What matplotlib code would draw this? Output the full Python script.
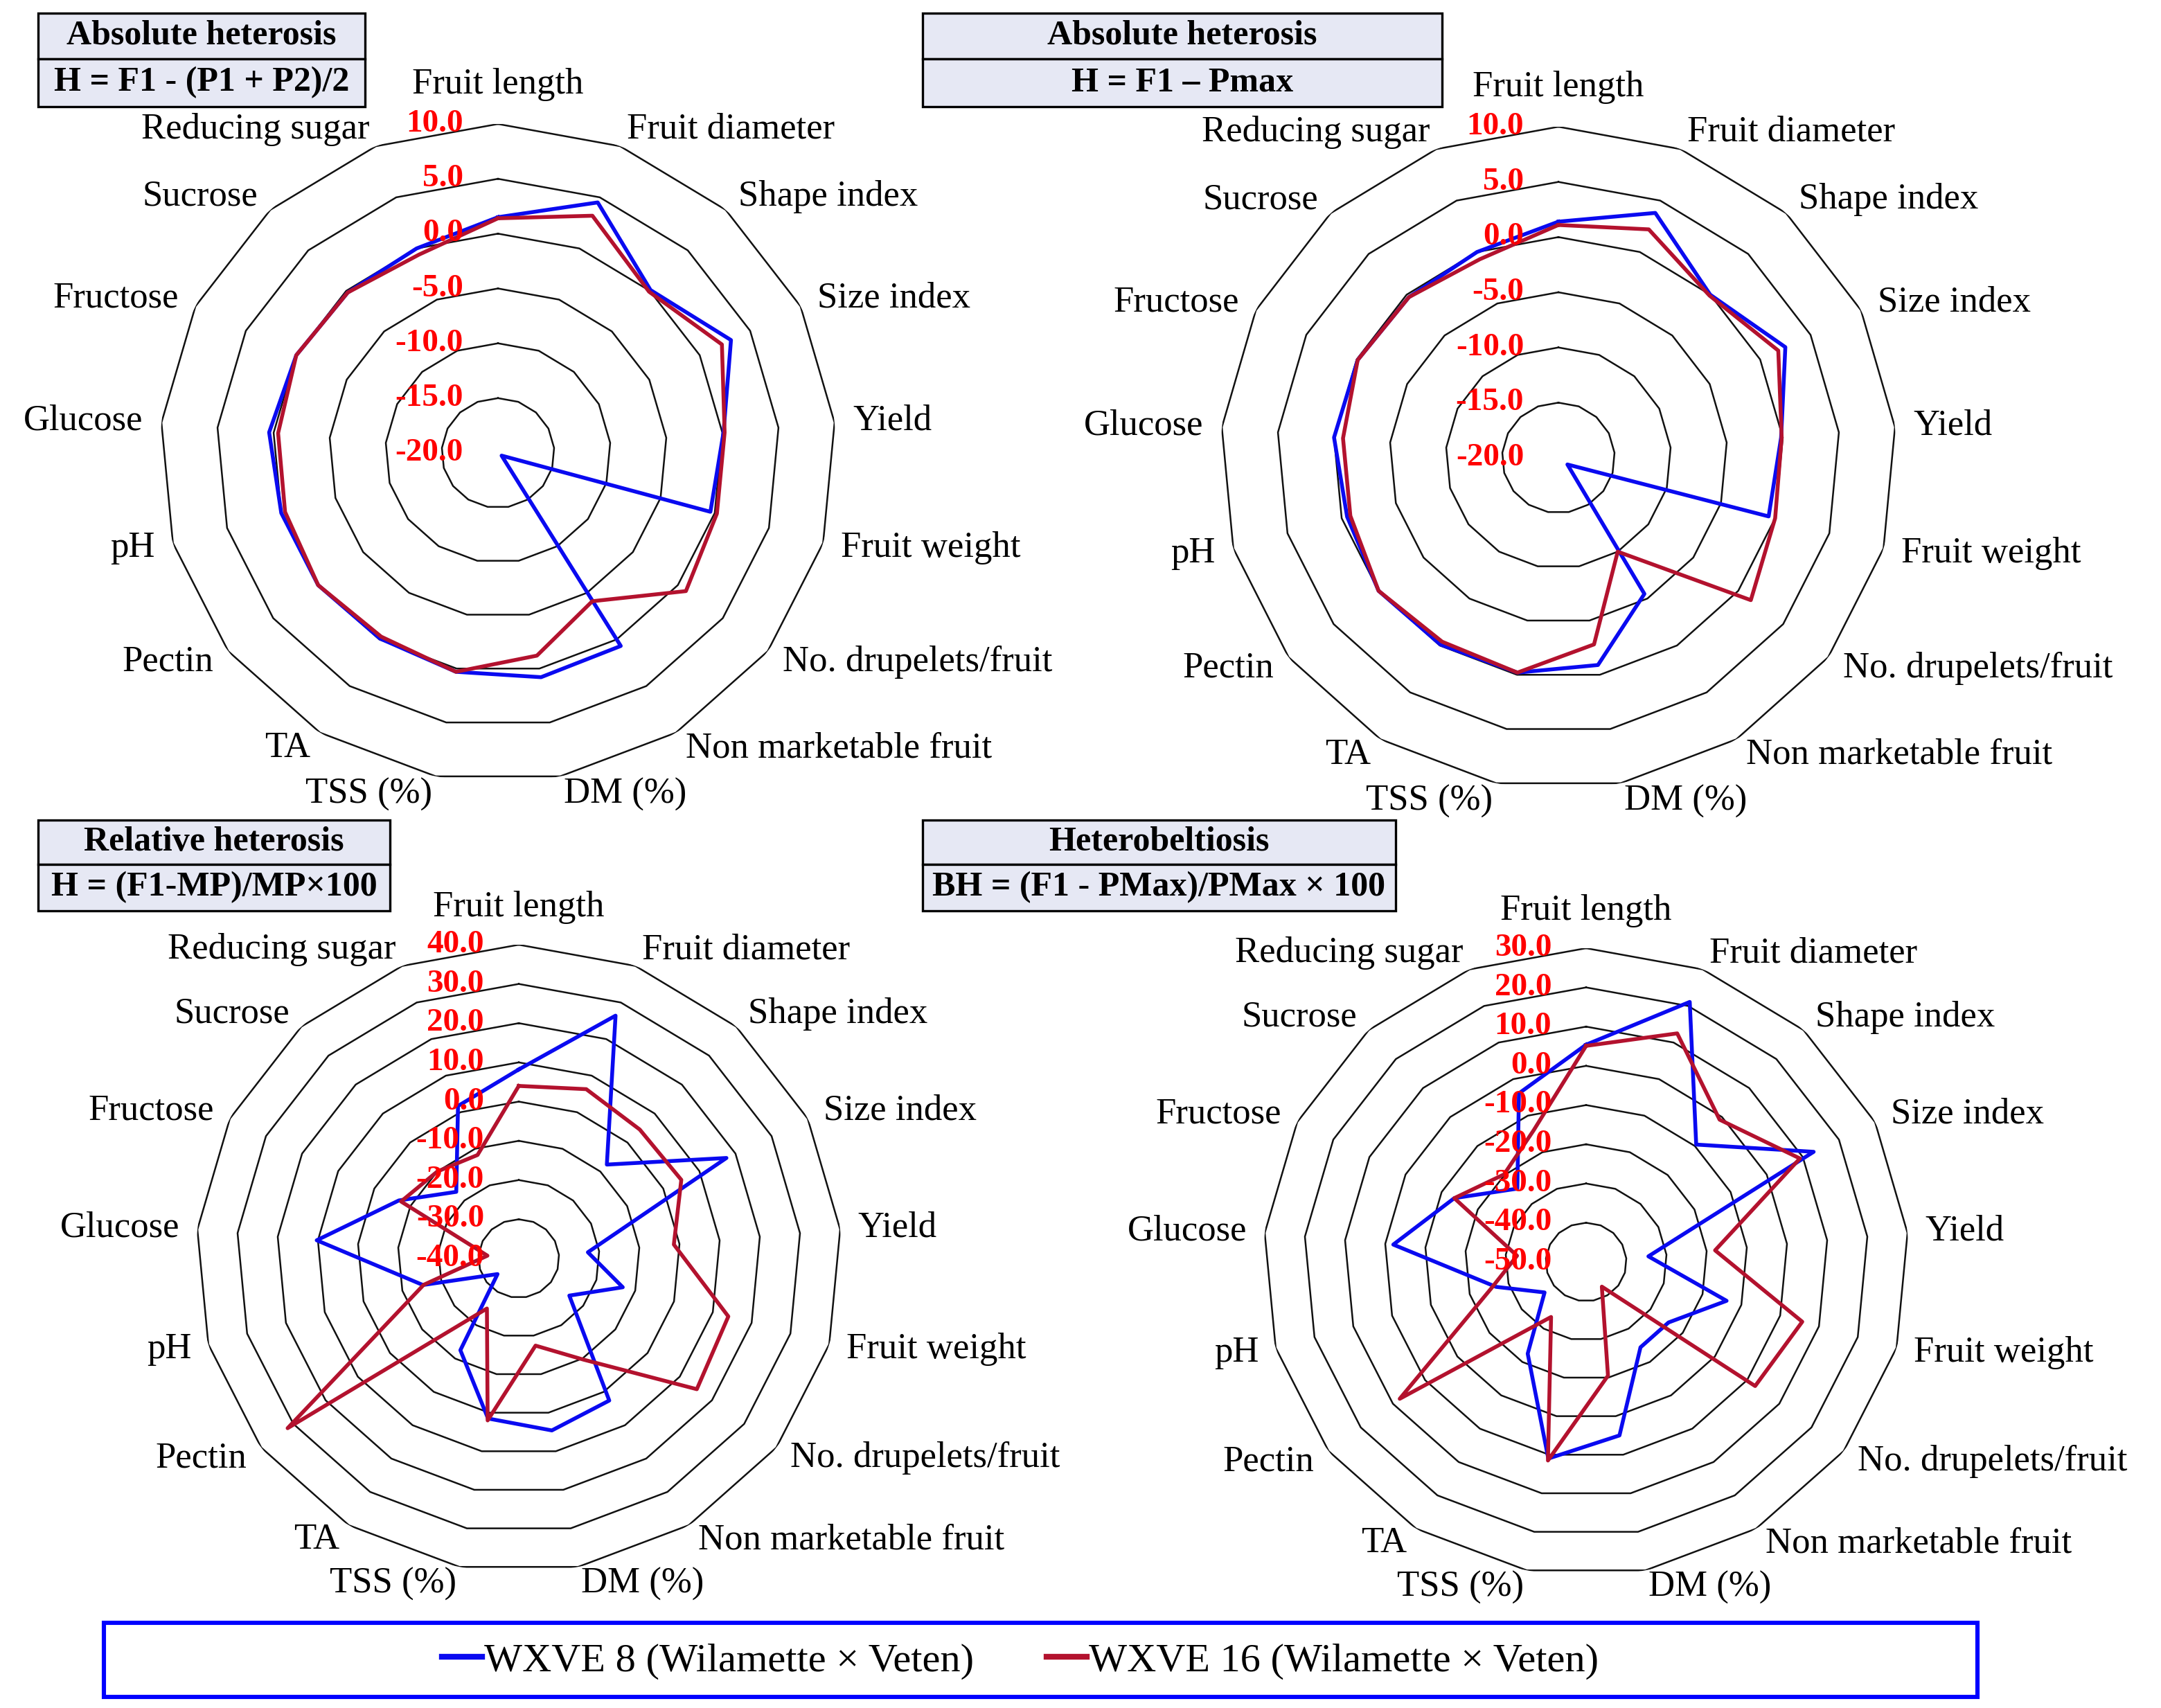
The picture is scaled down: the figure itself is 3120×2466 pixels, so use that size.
import numpy as np
import matplotlib
matplotlib.use("Agg")
import matplotlib.pyplot as plt
from matplotlib.patches import Rectangle
from matplotlib.lines import Line2D
from matplotlib import transforms

plt.rcParams['font.family'] = ['Liberation Serif', 'DejaVu Serif']

categories = ["Fruit length", "Fruit diameter", "Shape index", "Size index", "Yield",
              "Fruit weight", "No. drupelets/fruit", "Non marketable fruit", "DM (%)",
              "TSS (%)", "TA", "Pectin", "pH", "Glucose", "Fructose", "Sucrose",
              "Reducing sugar"]

series_names = ["WXVE 8 (Wilamette \u00d7 Veten)", "WXVE 16 (Wilamette \u00d7 Veten)"]

# H = F1 - (P1 + P2)/2
abs_mp_wxve8 = [1.5, 4.5, 0.1, 3.1, 0.1, -0.4, -19.6, 0.7, 0.8, 0.3, -0.1, 0.0, 0.0, 0.4, 0.0, -0.2, 0.0]
abs_mp_wxve16 = [1.4, 3.2, -0.1, 2.2, 0.2, 0.2, 0.9, -4.1, -1.2, 0.3, -0.3, 0.0, -0.35, -0.4, 0.0, -0.2, -0.6]
abs_mp_ticks = [-20, -15, -10, -5, 0, 5, 10]

# H = F1 - Pmax
abs_pmax_wxve8 = [1.4, 3.8, 0.0, 2.5, -0.15, -0.6, -19.0, -5.5, -0.9, -0.2, -0.1, 0.0, -0.5, 0.0, -0.1, -0.3, 0.0]
abs_pmax_wxve16 = [1.1, 2.2, -0.1, 1.8, -0.1, 0.0, 1.4, -10.0, -2.8, -0.2, -0.4, 0.0, -0.8, -0.8, -0.1, -0.3, -0.7]
abs_pmax_ticks = [-20, -15, -10, -5, 0, 5, 10]

# relative heterosis (%)
rel_wxve8 = [8.2, 26.4, -7.6, 17.5, -22.8, -13.2, -24.3, 2.6, 4.6, 1.5, -12.5, -33.4, -15.3, 10.3, -6.8, -17.0, 1.7]
rel_wxve16 = [4.0, 6.3, 4.5, 5.0, -1.4, 14.0, 15.3, -9.7, -17.4, 2.0, -25.0, 31.8, -15.5, -32.2, -7.4, -10.0, -11.7]
rel_ticks = [-40, -30, -20, -10, 0, 10, 20, 30, 40]

# heterobeltiosis (%)
hb_wxve8 = [5.4, 21.1, -9.5, 13.0, -34.5, -13.8, -24.4, -24.4, -5.0, 1.0, -22.5, -37.1, -26.8, -2.0, -13.5, -24.7, -3.9]
hb_wxve16 = [5.1, 12.5, -0.9, 9.2, -17.9, 5.7, 2.5, -42.6, -20.5, 1.5, -33.5, 7.9, -25.6, -32.8, -13.5, -19.8, -14.0]
hb_ticks = [-50, -40, -30, -20, -10, 0, 10, 20, 30]

W, H = 3120, 2466
DPI = 200
BLUE = '#0A0AF0'
RED = '#B3122E'

fig = plt.figure(figsize=(W / DPI, H / DPI), dpi=DPI)


def px_rect(cx, cy, rx, ry):
    return [(cx - rx) / W, 1 - (cy + ry) / H, 2 * rx / W, 2 * ry / H]


def radar(rect, ticks, blue, red):
    ax = fig.add_axes(rect, projection='polar')
    ax.set_aspect('auto')
    ax.set_theta_zero_location('N')
    ax.set_theta_direction(-1)
    n = len(categories)
    ang = np.linspace(0, 2 * np.pi, n, endpoint=False)
    closed = np.append(ang, ang[0])
    lo, hi = ticks[0], ticks[-1]
    ax.set_ylim(lo, hi)
    ax.grid(False)
    ax.set_xticks([])
    ax.set_yticks([])
    ax.spines['polar'].set_visible(False)

    for t in ticks[1:]:
        ax.plot(closed, [t] * (n + 1), color='#111111', lw=0.9, zorder=1)

    for vals, col in ((blue, BLUE), (red, RED)):
        ax.plot(closed, np.append(vals, vals[0]), color=col, lw=2.0, zorder=3, clip_on=False)

    span = hi - lo
    for a, name in zip(ang, categories):
        s = np.sin(a)
        if abs(s) < 0.05:
            ax.text(a, hi + 0.12 * span, name, ha='center', va='center', fontsize=19)
        else:
            ax.text(a, hi + 0.055 * span, name, ha='left' if s > 0 else 'right',
                    va='center', fontsize=19)

    off = transforms.offset_copy(ax.transData, fig=fig, x=-50, y=0, units='dots')
    for t in ticks:
        ax.text(0, t, f'{t:.1f}', transform=off, ha='right', va='center', color='red',
                fontweight='bold', fontsize=17, zorder=5)
    return ax


def title_box(x0, x1, y0, ym, y1, line1, line2):
    for ya, yb, txt in ((y0, ym, line1), (ym, y1, line2)):
        fig.add_artist(Rectangle((x0 / W, 1 - yb / H), (x1 - x0) / W, (yb - ya) / H,
                                 transform=fig.transFigure, facecolor='#E6E8F4',
                                 edgecolor='black', lw=1.2))
        fig.text((x0 + x1) / 2 / W, 1 - (ya + yb) / 2 / H, txt, ha='center', va='center',
                 fontsize=18, fontweight='bold')


radar(px_rect(719, 654, 488, 475), abs_mp_ticks, abs_mp_wxve8, abs_mp_wxve16)
radar(px_rect(2250, 661, 488, 478), abs_pmax_ticks, abs_pmax_wxve8, abs_pmax_wxve16)
radar(px_rect(749, 1817, 466, 453), rel_ticks, rel_wxve8, rel_wxve16)
radar(px_rect(2290, 1822, 466, 453), hb_ticks, hb_wxve8, hb_wxve16)

title_box(55, 527, 19, 85, 154, "Absolute heterosis", "H = F1 - (P1 + P2)/2")
title_box(1332, 2082, 19, 85, 154, "Absolute heterosis", "H = F1 \u2013 Pmax")
title_box(55, 563, 1184, 1248, 1315, "Relative heterosis", "H = (F1-MP)/MP\u00d7100")
title_box(1332, 2015, 1184, 1248, 1315, "Heterobeltiosis", "BH = (F1 - PMax)/PMax \u00d7 100")

# legend
fig.add_artist(Rectangle((150 / W, 1 - 2450 / H), 2705 / W, 107 / H, transform=fig.transFigure,
                         fill=False, edgecolor='#0000FF', lw=2.2))
handles = [Line2D([], [], color=BLUE, lw=3), Line2D([], [], color=RED, lw=3)]
fig.legend(handles, series_names, loc='center', bbox_to_anchor=(1473 / W, 1 - 2398 / H),
           ncol=2, frameon=False, fontsize=21, handlelength=1.0, handletextpad=0.05,
           columnspacing=1.8)

fig.savefig("out.png", dpi=DPI)
